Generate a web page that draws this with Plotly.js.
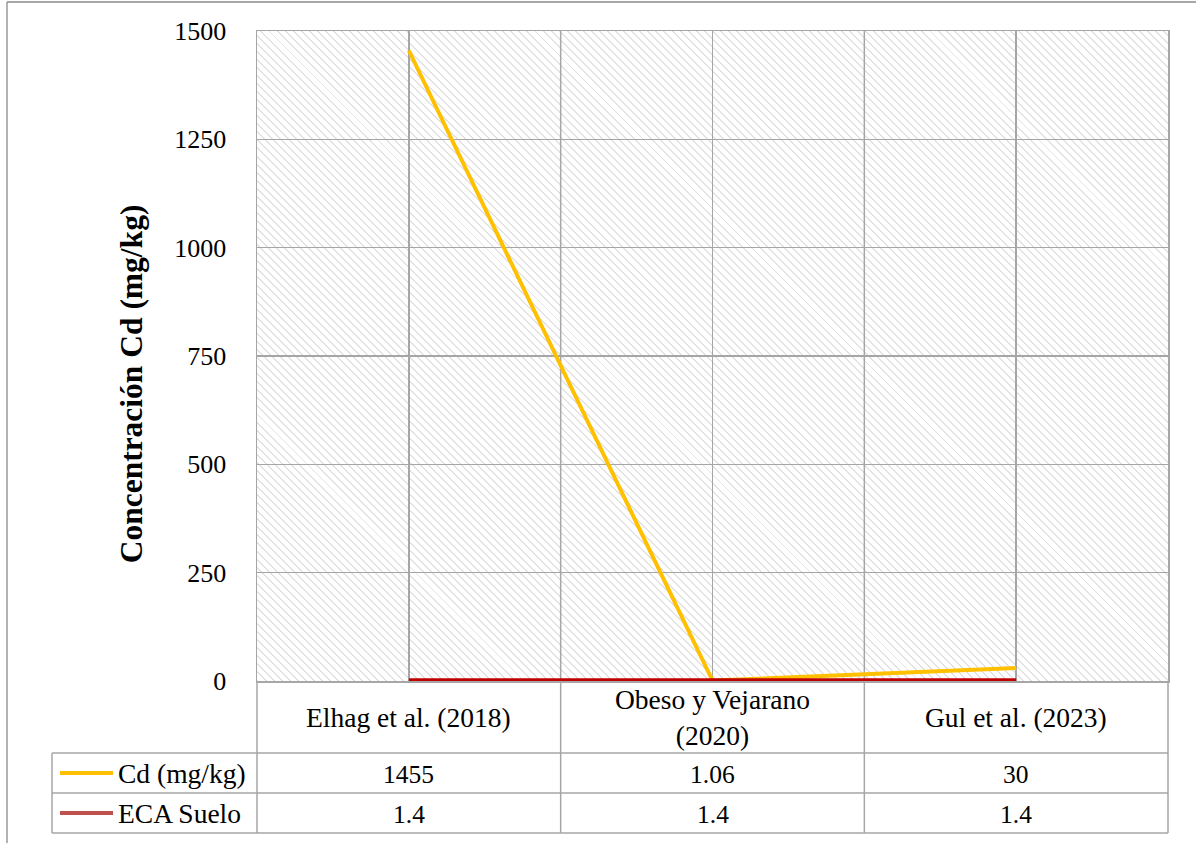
<!DOCTYPE html>
<html><head><meta charset="utf-8">
<script src="https://cdn.plot.ly/plotly-3.0.1.min.js"></script>
<style>
html,body{margin:0;padding:0;background:#fff;}
#wrap{position:relative;width:1196px;height:843px;overflow:hidden;background:#fff;}
#hatch{position:absolute;left:257px;top:31px;width:911px;height:650px;
 background:repeating-linear-gradient(45deg,#e3e3e3 0px,#e3e3e3 1.4px,#ffffff 1.4px,#ffffff 5.7px);}
#chart{position:absolute;left:0;top:0;width:1196px;height:843px;}
</style></head><body>
<div id="wrap"><div id="hatch"></div><div id="chart"></div></div>
<script>
// ---- data ----
const categories = ["Elhag et al. (2018)", "Obeso y Vejarano (2020)", "Gul et al. (2023)"];
const categoryLabels = ["Elhag et al. (2018)", "Obeso y Vejarano<br>(2020)", "Gul et al. (2023)"];
const cdValues = [1455, 1.06, 30];
const ecaValues = [1.4, 1.4, 1.4];
const seriesNames = ["Cd (mg/kg)", "ECA Suelo"];
const yTickVals = [0, 250, 500, 750, 1000, 1250, 1500];
const yTitle = "Concentración Cd (mg/kg)";

// ---- layout geometry ----
const W = 1196, H = 843, ML = 257, MR = 28, MT = 31, MB = 162;
const PW = W - ML - MR, PH = H - MT - MB;
const PB = H - MB;
const px = X => (X - ML) / PW;
const py = Y => (PB - Y) / PH;
const GRID = '#a6a6a6';
const FONT = 'Liberation Serif';
const cdColor = '#FFC000', ecaColor = '#C00000', ecaKey = '#C0504D';

const n = categories.length;
const catX = i => ML + PW * (i + 0.5) / n;
const bndX = i => ML + PW * i / n;

const rowTop = 753, rowMid = 793, rowBot = 833, tblLeft = 52;

const shapes = [];
function line(x0, y0, x1, y1, color, width, layer) {
  shapes.push({type: 'line', xref: 'paper', yref: 'paper',
    x0: px(x0), y0: py(y0), x1: px(x1), y1: py(y1),
    line: {color: color, width: width}, layer: layer || 'above'});
}
// outer chart border (partially visible)
line(7, 2, W + 5, 2, '#8a8a8a', 1.3);
line(7, 2, 7, H + 5, '#8a8a8a', 1.3);
// category boundary lines through plot and table
for (let i = 1; i < n; i++) line(bndX(i), MT, bndX(i), rowBot, GRID, 1.5, 'below');
// table outer verticals
line(bndX(0), PB, bndX(0), rowBot, GRID, 1.5);
line(bndX(n), PB, bndX(n), rowBot, GRID, 1.5);
line(tblLeft, rowTop, tblLeft, rowBot, GRID, 1.5);
// table horizontals
[rowTop, rowMid, rowBot].forEach(Y => line(tblLeft, Y, bndX(n), Y, GRID, 1.5));
// legend keys
line(60, (rowTop + rowMid) / 2, 113, (rowTop + rowMid) / 2, cdColor, 4);
line(60, (rowMid + rowBot) / 2, 113, (rowMid + rowBot) / 2, ecaKey, 4);

const annotations = [];
function txt(X, Y, t, anchor, size) {
  annotations.push({xref: 'paper', yref: 'paper', x: px(X), y: py(Y), text: t,
    showarrow: false, xanchor: anchor || 'center', yanchor: 'middle',
    font: {family: FONT, size: size || 26, color: '#000'}});
}
categoryLabels.forEach((c, i) => txt(catX(i), (PB + rowTop) / 2, c, 'center', 27.5));
cdValues.forEach((v, i) => txt(catX(i), (rowTop + rowMid) / 2 + 1, String(v), 'center', 25.5));
ecaValues.forEach((v, i) => txt(catX(i), (rowMid + rowBot) / 2 + 1, String(v), 'center', 25.5));
txt(116, (rowTop + rowMid) / 2, seriesNames[0], 'left', 27.5);
txt(116, (rowMid + rowBot) / 2, seriesNames[1], 'left', 27.5);

const traces = [
  {type: 'scatter', mode: 'lines', name: seriesNames[0], x: categories, y: cdValues,
   line: {color: cdColor, width: 4}},
  {type: 'scatter', mode: 'lines', name: seriesNames[1], x: categories, y: ecaValues,
   line: {color: ecaColor, width: 4.5}}
];

const layout = {
  width: W, height: H,
  margin: {l: ML, r: MR, t: MT, b: MB, pad: 0},
  paper_bgcolor: 'rgba(0,0,0,0)', plot_bgcolor: 'rgba(0,0,0,0)',
  showlegend: false,
  font: {family: FONT, color: '#000'},
  xaxis: {type: 'category', categoryorder: 'array', categoryarray: categories,
    range: [-0.5, n - 0.5], showgrid: true, gridcolor: GRID, gridwidth: 1.5,
    showticklabels: false, ticks: '', showline: true, mirror: true,
    linecolor: GRID, linewidth: 1.5, zeroline: false, layer: 'below traces', fixedrange: true},
  yaxis: {range: [0, 1500], tickvals: yTickVals, showgrid: true, gridcolor: GRID, gridwidth: 1.5,
    zeroline: false, showline: true, mirror: true, linecolor: GRID, linewidth: 1.5,
    ticks: '', ticklabelstandoff: 24, layer: 'below traces',
    tickfont: {family: FONT, size: 26, color: '#000'},
    title: {text: '<b>' + yTitle + '</b>', standoff: 22,
      font: {family: FONT, size: 31.5, color: '#000'}}, fixedrange: true},
  shapes: shapes, annotations: annotations
};

Plotly.newPlot('chart', traces, layout, {staticPlot: true, displayModeBar: false}).then(gd => {
  // let the series lines overhang the plot edge like the original
  gd.querySelectorAll('.plot, .scatterlayer .trace, .scatterlayer .js-line').forEach(e => {
    e.removeAttribute('clip-path');
    if (e.style) e.style.clipPath = '';
  });
  // the original's axis title sits a little below the plot centre
  const t = gd.querySelector('.ytitle');
  if (t) t.setAttribute('transform', 'translate(0,28) ' + (t.getAttribute('transform') || ''));
});
</script>
</body></html>
